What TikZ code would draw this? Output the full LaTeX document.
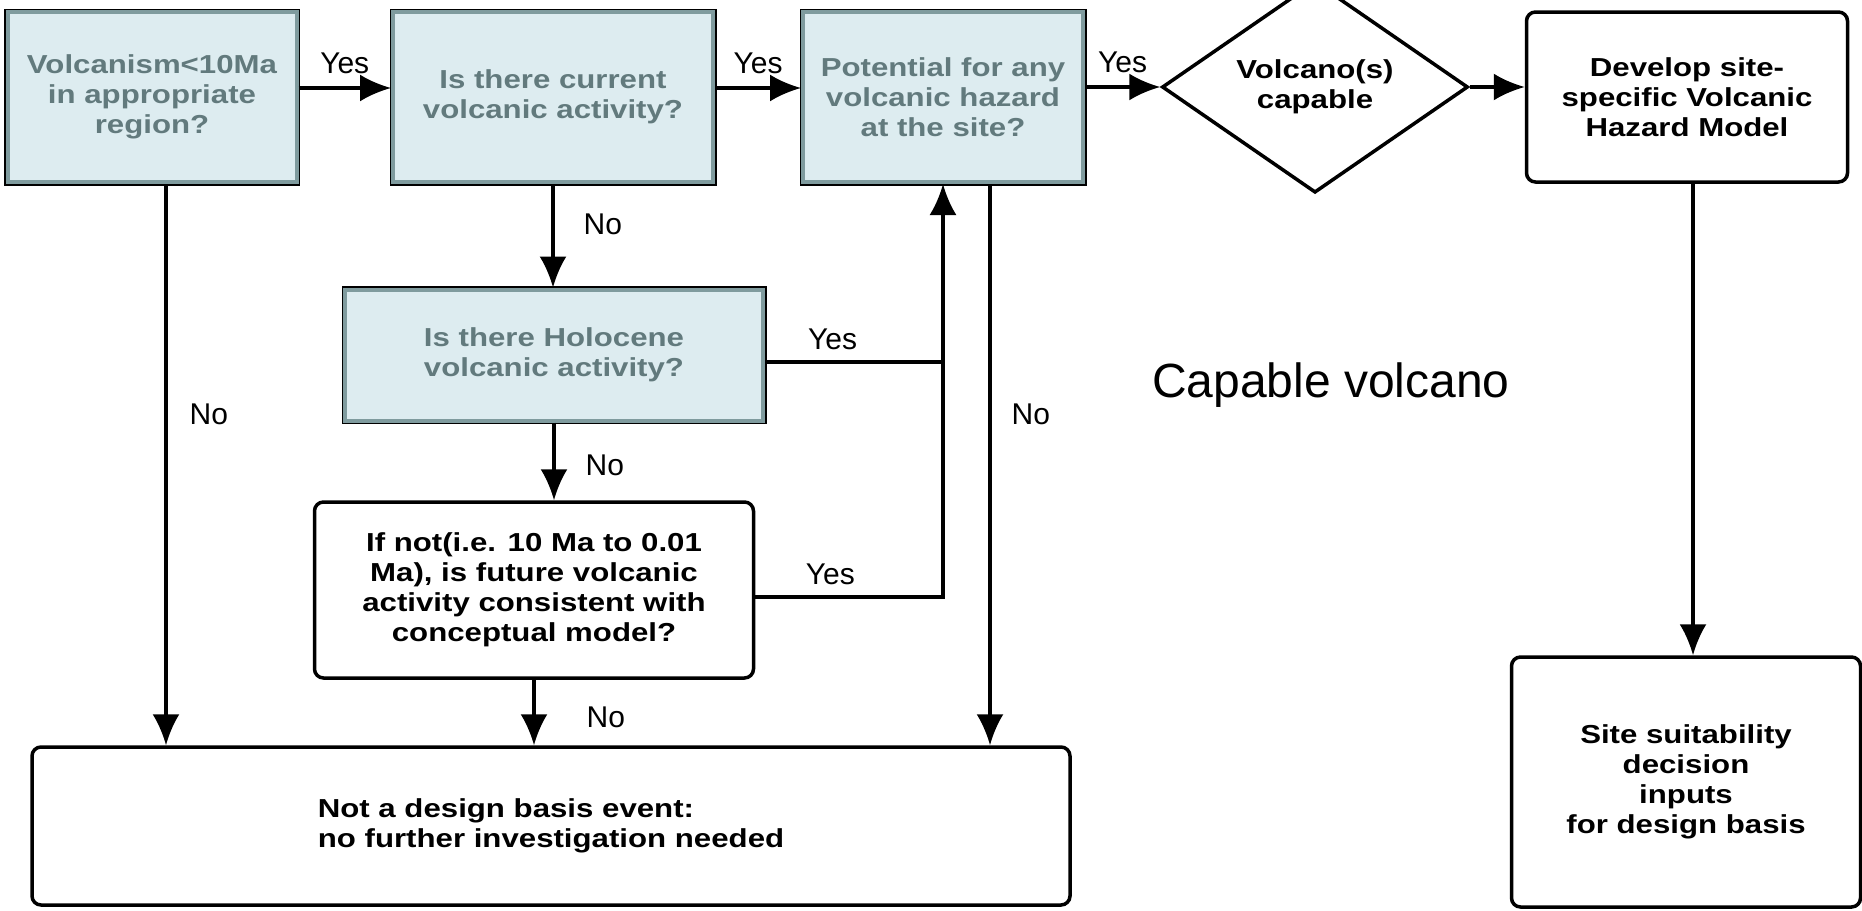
\documentclass[tikz,border=0pt]{standalone}
\usepackage{fontspec}
\setmainfont{Liberation Sans}
\newfontfamily\boxfont[FakeStretch=1.2]{Liberation Sans}
\usetikzlibrary{arrows.meta,shapes.geometric}

\definecolor{qfill}{HTML}{DDECF0}
\definecolor{qedge}{HTML}{7F9B9E}
\definecolor{qtext}{HTML}{627A7D}

\tikzset{
	qbox/.style={rectangle, draw=qedge, fill=qfill, line width=4pt, text=qtext, align=center,
		font=\boxfont\bfseries\fontsize{26}{30}\selectfont, inner sep=0pt,
		preaction={draw=black, line width=7pt}},
	wbox/.style={rectangle, draw=black, line width=3.5pt, rounded corners=9pt, fill=white, align=center,
		font=\boxfont\bfseries\fontsize{26}{30}\selectfont, inner sep=0pt},
	arr/.style={line width=3.2pt, -{Latex[length=31pt,width=27pt]}},
	lbl/.style={font=\fontsize{30}{34}\selectfont, inner sep=0pt}
}

\begin{document}
\begin{tikzpicture}[x=1pt,y=-1pt]
				\useasboundingbox (0,0) rectangle (1862,910);
				\node[qbox, minimum width=289pt, minimum height=170pt] (vol) at (152,97) {Volcanism<10Ma\\in appropriate\\region?};
				\node[qbox, minimum width=320pt, minimum height=170pt] (cur) at (553,97) {Is there current\\volcanic activity?};
				\node[qbox, minimum width=280pt, minimum height=170pt] (pot) at (943,97) {Potential for any\\volcanic hazard\\at the site?};
				\node[diamond, draw, line width=3.5pt, minimum width=306pt, minimum height=190pt, inner sep=0pt, align=center,
					font=\boxfont\bfseries\fontsize{26}{30}\selectfont] (vcap) at (1315,87) {Volcano(s)\\capable};
				\node[wbox, minimum width=321pt, minimum height=170pt] (dev) at (1687,97) {Develop site-\\specific Volcanic\\Hazard Model};
				\node[qbox, minimum width=418pt, minimum height=131pt] (holo) at (554,355) {Is there Holocene\\volcanic activity?};
				\node[wbox, minimum width=439pt, minimum height=176pt] (ifnot) at (534,590) {If not(i.e. 10 Ma to 0.01\\Ma), is future volcanic\\activity consistent with\\conceptual model?};
				\node[wbox, minimum width=1038pt, minimum height=158pt, align=left] (notdb) at (551,826) {Not a design basis event:\\no further investigation needed};
				\node[wbox, minimum width=349pt, minimum height=250pt] (site) at (1686,782) {Site suitability\\decision\\inputs\\for design basis};
				\node[font=\fontsize{48}{56}\selectfont] (capv) at (1331,385) {Capable volcano};

				\draw[arr] ([yshift=9pt]vol.east) -- ([yshift=9pt]cur.west)node[lbl, midway, above=13pt]{Yes};
				\draw[arr] ([yshift=9pt]cur.east) -- ([yshift=9pt]pot.west)node[lbl, midway, above=13pt]{Yes};
				\draw[arr] (pot.east |- vcap.west) -- (vcap.west)node[lbl, midway, above=13pt]{Yes};
				\draw[arr] (vcap.east) -- (vcap.east -| dev.west);
				\draw[arr] ([xshift=6pt]dev.south) -- ([xshift=6pt]dev.south |- site.north);

				\draw[arr] ([xshift=14pt]vol.south) -- ([xshift=14pt]vol.south |- notdb.north)node[lbl, pos=.41, right=22pt]{No};
				\draw[arr] (cur.south) -- (cur.south |- holo.north)node[lbl, pos=.39, right=29pt]{No};
				\draw[arr] (holo.south) -- (holo.south |- ifnot.north)node[lbl, pos=.55, right=30pt]{No};
				\draw[arr] (ifnot.south) -- (ifnot.south |- notdb.north)node[lbl, pos=.58, right=51pt]{No};
				\draw[arr] ([xshift=47pt]pot.south) -- ([xshift=47pt]pot.south |- notdb.north)node[lbl, pos=.41, right=20pt]{No};

				\draw[line width=3.2pt] ([yshift=-7pt]holo.east) -- ([yshift=-7pt]holo.east -| pot.south)node[lbl, pos=.38, above=11pt]{Yes};
				\draw[arr] ([yshift=-7pt]ifnot.east) -| (pot.south)node[lbl, pos=.2, above=11pt]{Yes};
			\end{tikzpicture}
\end{document}
